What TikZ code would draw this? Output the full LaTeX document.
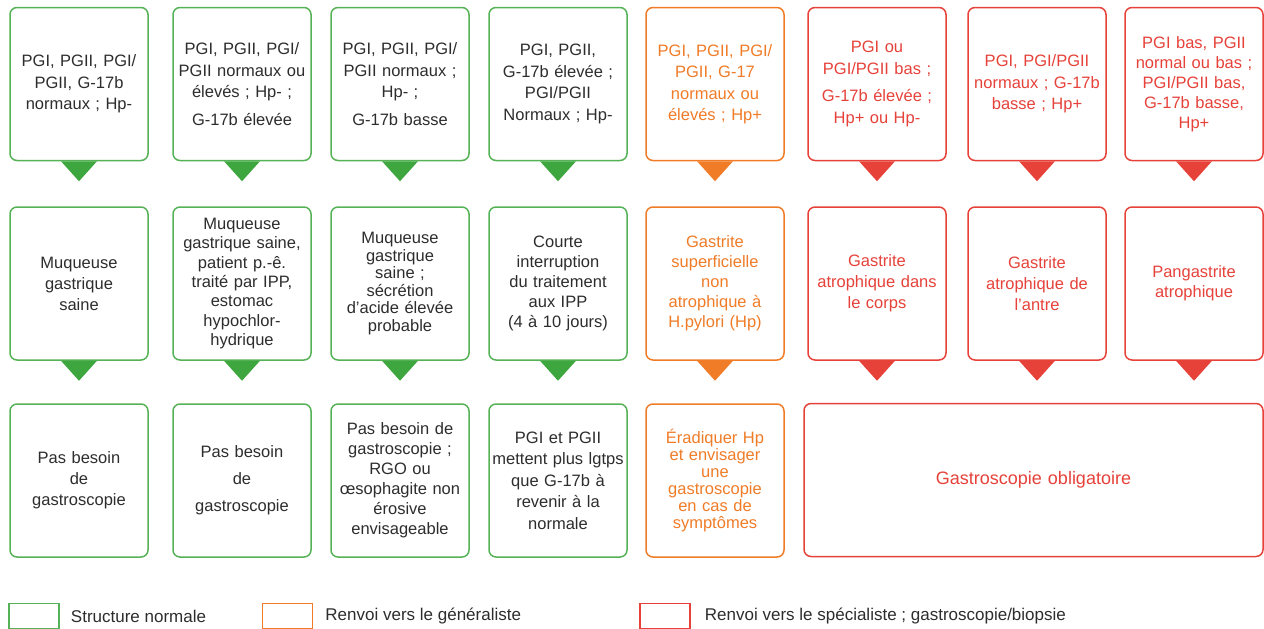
\documentclass[tikz,border=0pt]{standalone}
\usepackage{fontspec}
\setmainfont{Liberation Sans}
\usepackage{tikz}
\usetikzlibrary{positioning}
\definecolor{grn}{RGB}{86,178,86}
\definecolor{grnf}{RGB}{62,166,62}
\definecolor{org}{RGB}{240,124,40}
\definecolor{rd}{RGB}{230,66,58}
\definecolor{txt}{RGB}{45,45,45}
\newcommand{\tipdown}[2]{\fill[#1] (#2.south) ++(-18,0) -- ++(36,0) -- ++(-18,20) -- cycle;}

\begin{document}
\begin{tikzpicture}[x=1pt,y=-1pt,
  box/.style={rounded corners=7pt,line width=1.5pt,fill=white,minimum width=138pt,minimum height=153pt,text width=134pt,align=center,inner sep=0pt,font=\fontsize{16.5}{20}\selectfont},
  greenbox/.style={box,draw=grn,text=txt},
  orangebox/.style={box,draw=org,text=org},
  redbox/.style={box,draw=rd,text=rd},
  toprow/.style={font=\fontsize{16.5}{21.5}\selectfont},
  legbox/.style={draw,line width=1.5pt,minimum width=50pt,minimum height=25pt,inner sep=0pt},
  legtext/.style={inner sep=0pt,text=txt,font=\fontsize{17}{20}\selectfont}]
\useasboundingbox (0,0) rectangle (1264,629);
% lab values
\node[greenbox,toprow] (Lab1) at (79,84) {PGI, PGII, PGI/\\PGII, G-17b\\normaux ; Hp-\\[4pt]};
\node[greenbox,toprow] (Lab2) at (242,84) {PGI, PGII, PGI/\\PGII normaux ou\\élevés ; Hp- ;\\[6pt]G-17b élevée};
\node[greenbox,toprow] (Lab3) at (400,84) {PGI, PGII, PGI/\\PGII normaux ;\\Hp- ;\\[6pt]G-17b basse};
\node[greenbox,toprow] (Lab4) at (558,84) {PGI, PGII,\\G-17b élevée ;\\PGI/PGII\\Normaux ; Hp-\\[6pt]};
\node[orangebox,toprow] (Lab5) at (715,84) {PGI, PGII, PGI/\\PGII, G-17\\normaux ou\\élevés ; Hp+};
\node[redbox,toprow] (Lab6) at (877,84) {PGI ou\\PGI/PGII bas ;\\[6pt]G-17b élevée ;\\Hp+ ou Hp-};
\node[redbox,toprow] (Lab7) at (1037,84) {PGI, PGI/PGII\\normaux ; G-17b\\basse ; Hp+};
\node[redbox] (Lab8) at (1194,84) {PGI bas, PGII\\normal ou bas ;\\PGI/PGII bas,\\G-17b basse,\\Hp+};
% diagnosis
\node[greenbox,font=\fontsize{16.5}{21}\selectfont] (Diag1) at (79,283.5) {Muqueuse\\gastrique\\saine};
\node[greenbox,font=\fontsize{16.5}{19.4}\selectfont] (Diag2) at (242,283.5) {Muqueuse\\gastrique saine,\\patient p.-ê.\\traité par IPP,\\estomac\\hypochlor-\\hydrique};
\node[greenbox,font=\fontsize{16.5}{17.5}\selectfont] (Diag3) at (400,283.5) {Muqueuse\\gastrique\\saine ;\\sécrétion\\d’acide élevée\\probable\\[6pt]};
\node[greenbox] (Diag4) at (558,283.5) {Courte\\interruption\\du traitement\\aux IPP\\(4 à 10 jours)\\[8pt]};
\node[orangebox] (Diag5) at (715,283.5) {Gastrite\\superficielle\\non\\atrophique à\\H.pylori (Hp)\\[6pt]};
\node[redbox,font=\fontsize{16.5}{21}\selectfont] (Diag6) at (877,283.5) {Gastrite\\atrophique dans\\le corps\\[8pt]};
\node[redbox,font=\fontsize{16.5}{21}\selectfont] (Diag7) at (1037,283.5) {Gastrite\\atrophique de\\l’antre\\[8pt]};
\node[redbox] (Diag8) at (1194,283.5) {Pangastrite\\atrophique\\[8pt]};
% pointers
\tipdown{grnf}{Lab1} \tipdown{grnf}{Lab2} \tipdown{grnf}{Lab3} \tipdown{grnf}{Lab4}
\tipdown{org}{Lab5} \tipdown{rd}{Lab6} \tipdown{rd}{Lab7} \tipdown{rd}{Lab8}
\tipdown{grnf}{Diag1} \tipdown{grnf}{Diag2} \tipdown{grnf}{Diag3} \tipdown{grnf}{Diag4}
\tipdown{org}{Diag5} \tipdown{rd}{Diag6} \tipdown{rd}{Diag7} \tipdown{rd}{Diag8}
% what to do
\node[greenbox,font=\fontsize{16.5}{21}\selectfont] (Act1) at (79,480.5) {Pas besoin\\de\\gastroscopie\\[8pt]};
\node[greenbox,font=\fontsize{16.5}{27}\selectfont] (Act2) at (242,480.5) {Pas besoin\\de\\gastroscopie};
\node[greenbox] (Act3) at (400,480.5) {Pas besoin de\\gastroscopie ;\\RGO ou\\œsophagite non\\érosive\\envisageable};
\node[greenbox,font=\fontsize{16.5}{21.5}\selectfont] (Act4) at (558,480.5) {PGI et PGII\\mettent plus lgtps\\que G-17b à\\revenir à la\\normale};
\node[orangebox,font=\fontsize{16.5}{17}\selectfont] (Act5) at (715,480.5) {Éradiquer Hp\\et envisager\\une\\gastroscopie\\en cas de\\symptômes};
\node[redbox,minimum width=459pt,text width=440pt,font=\fontsize{18}{22}\selectfont] (ActBig) at (1033.5,480) {Gastroscopie obligatoire\\[18pt]};
% legend
\node[legbox,draw=grn] (LegA) at (34,616) {};
\node[legtext,right=11pt of LegA] (LegAt) {Structure normale};
\node[legbox,draw=org] (LegB) at (287.5,616) {};
\node[legtext,right=12pt of LegB] (LegBt) {Renvoi vers le généraliste};
\node[legbox,draw=rd] (LegC) at (665,616) {};
\node[legtext,right=14pt of LegC] (LegCt) {Renvoi vers le spécialiste ; gastroscopie/biopsie};
\end{tikzpicture}
\end{document}
